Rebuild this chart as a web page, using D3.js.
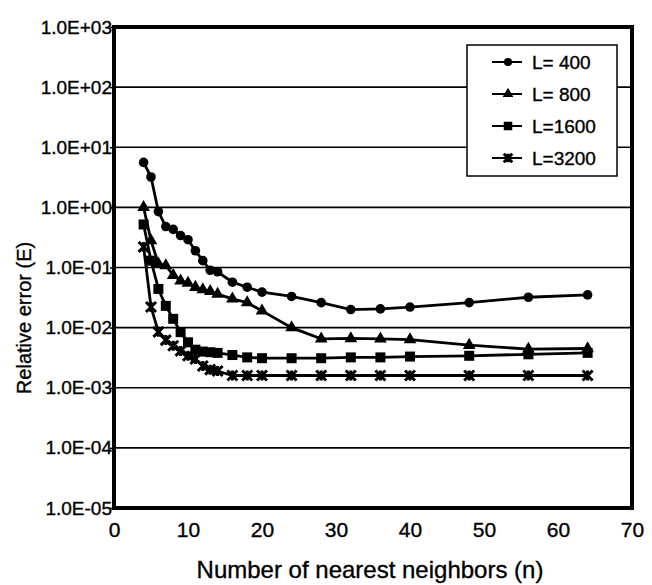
<!DOCTYPE html>
<html>
<head>
<meta charset="utf-8">
<script src="https://cdn.jsdelivr.net/npm/d3@7"></script>
<style>
  body { margin: 0; background: #fff; }
  text { font-family: "Liberation Sans", Arial, sans-serif; fill: #000; stroke: #000; stroke-width: 0.35px; }
</style>
</head>
<body>
<div id="chart"></div>
<script>
// number of nearest neighbors (same for every series)
var neighbors = [4, 5, 6, 7, 8, 9, 10, 11, 12, 13, 14, 16, 18, 20, 24, 28, 32, 36, 40, 48, 56, 64];

// relative error per series
var L400  = [5.6, 3.2, 0.85, 0.48, 0.43, 0.34, 0.29, 0.19, 0.13, 0.09, 0.085, 0.057, 0.047, 0.039, 0.033, 0.026, 0.020, 0.0205, 0.022, 0.026, 0.032, 0.035];
var L800  = [1.0, 0.28, 0.115, 0.108, 0.074, 0.06, 0.055, 0.047, 0.043, 0.040, 0.036, 0.030, 0.026, 0.019, 0.010, 0.0065, 0.0066, 0.0065, 0.0063, 0.0051, 0.0044, 0.0045];
var L1600 = [0.52, 0.13, 0.044, 0.023, 0.014, 0.0084, 0.0057, 0.0043, 0.0040, 0.0039, 0.0038, 0.0035, 0.0032, 0.0031, 0.0031, 0.0031, 0.0032, 0.0032, 0.0033, 0.0034, 0.0036, 0.0038];
var L3200 = [0.22, 0.022, 0.0085, 0.0062, 0.005, 0.0041, 0.0034, 0.003, 0.0023, 0.002, 0.0019, 0.0016, 0.0016, 0.0016, 0.0016, 0.0016, 0.0016, 0.0016, 0.0016, 0.0016, 0.0016, 0.0016];

var seriesNames = ["L= 400", "L= 800", "L=1600", "L=3200"];
var seriesValues = [L400, L800, L1600, L3200];
var markerTypes = ["circle", "triangle", "square", "cross"];

var xTicks = [0, 10, 20, 30, 40, 50, 60, 70];
var yTicks = [1e3, 1e2, 1e1, 1e0, 1e-1, 1e-2, 1e-3, 1e-4, 1e-5];
var yTickLabels = ["1.0E+03", "1.0E+02", "1.0E+01", "1.0E+00", "1.0E-01", "1.0E-02", "1.0E-03", "1.0E-04", "1.0E-05"];

// set the dimensions and margins of the graph
var margin = {top: 27, right: 20, bottom: 77, left: 114},
    width = 632 - margin.left,
    height = 508 - margin.top;

var svg = d3.select("#chart")
  .append("svg")
    .attr("width", 652)
    .attr("height", 585)
  .append("g")
    .attr("transform", "translate(" + margin.left + "," + margin.top + ")");

var x = d3.scaleLinear().domain([0, 70]).range([0, width]);
var y = d3.scaleLog().domain([1e-5, 1e3]).range([height, 0]);

// horizontal grid lines
svg.append("g")
  .selectAll("line")
  .data(yTicks.slice(1, -1))
  .enter()
  .append("line")
    .attr("x1", 0)
    .attr("x2", width)
    .attr("y1", function(d) { return y(d) })
    .attr("y2", function(d) { return y(d) })
    .attr("stroke", "#000")
    .attr("stroke-width", 1.6);

// Y axis
var yAxis = svg.append("g")
  .call(d3.axisLeft(y).tickValues(yTicks).tickSize(4)
    .tickFormat(function(d, i) { return yTickLabels[i] }));
yAxis.select(".domain").remove();
yAxis.selectAll("line").attr("stroke-width", 1.5);
yAxis.selectAll("text")
  .attr("x", -2)
  .style("font-size", "19px")
  .style("font-family", "Liberation Sans, Arial, sans-serif");

// X axis
var xAxis = svg.append("g")
  .attr("transform", "translate(0," + height + ")")
  .call(d3.axisBottom(x).tickValues(xTicks).tickSize(0));
xAxis.select(".domain").remove();
xAxis.selectAll("text")
  .attr("y", 14)
  .style("font-size", "21px")
  .style("font-family", "Liberation Sans, Arial, sans-serif");

// lines
var line = d3.line()
  .x(function(d) { return x(d.n) })
  .y(function(d) { return y(d.v) });

var dataReady = seriesNames.map(function(name, i) {
  return {
    name: name,
    marker: markerTypes[i],
    values: neighbors.map(function(n, j) { return {n: n, v: seriesValues[i][j]} })
  };
});

svg.selectAll("myLines")
  .data(dataReady)
  .enter()
  .append("path")
    .attr("d", function(d) { return line(d.values) })
    .attr("fill", "none")
    .attr("stroke", "#000")
    .attr("stroke-width", 2.8);

function drawMarker(g, type, k) {
  k = k || 1;
  if (type == "circle") {
    g.append("circle").attr("r", 4.8 * k).attr("fill", "#000");
  } else if (type == "triangle") {
    g.append("path").attr("d", d3.symbol().type(d3.symbolTriangle).size(70 * k * k)).attr("fill", "#000");
  } else if (type == "square") {
    g.append("rect").attr("x", -5 * k).attr("y", -5 * k).attr("width", 10 * k).attr("height", 10 * k).attr("fill", "#000");
  } else {
    var s = 5 * k;
    g.append("path").attr("d", "M" + -s + "," + -s + "L" + s + "," + s + "M" + -s + "," + s + "L" + s + "," + -s + "M0," + -s + "L0," + s)
      .attr("stroke", "#000").attr("stroke-width", 3).attr("fill", "none");
  }
}

// points
dataReady.forEach(function(s) {
  svg.append("g")
    .selectAll("g")
    .data(s.values)
    .enter()
    .append("g")
      .attr("transform", function(d) { return "translate(" + x(d.n) + "," + y(d.v) + ")" })
      .each(function() { drawMarker(d3.select(this), s.marker) });
});

// frame
svg.append("rect")
  .attr("x", 0).attr("y", 0)
  .attr("width", width).attr("height", height)
  .attr("fill", "none")
  .attr("stroke", "#000")
  .attr("stroke-width", 4);

// legend
var legend = svg.append("g").attr("transform", "translate(" + (467 - margin.left) + "," + (45 - margin.top) + ")");
legend.append("rect")
  .attr("width", 150).attr("height", 131)
  .attr("fill", "#fff")
  .attr("stroke", "#000")
  .attr("stroke-width", 1.5);
var items = legend.selectAll("myLegend")
  .data(dataReady)
  .enter()
  .append("g")
    .attr("transform", function(d, i) { return "translate(0," + (17 + i * 32) + ")" });
items.append("line")
  .attr("x1", 25).attr("x2", 55)
  .attr("stroke", "#000").attr("stroke-width", 2);
items.append("g")
  .attr("transform", "translate(41,0)")
  .each(function(d) { drawMarker(d3.select(this), d.marker, 0.85) });
items.append("text")
  .attr("x", 65)
  .attr("dy", "0.35em")
  .style("font-size", "19px")
  .text(function(d) { return d.name });

// axis titles
svg.append("text")
  .attr("x", 370 - margin.left)
  .attr("y", 578 - margin.top)
  .attr("text-anchor", "middle")
  .style("font-size", "24px")
  .text("Number of nearest neighbors (n)");

svg.append("text")
  .attr("transform", "translate(" + (31 - margin.left) + "," + (318 - margin.top) + ") rotate(-90)")
  .attr("text-anchor", "middle")
  .style("font-size", "20px")
  .text("Relative error (E)");
</script>
</body>
</html>
